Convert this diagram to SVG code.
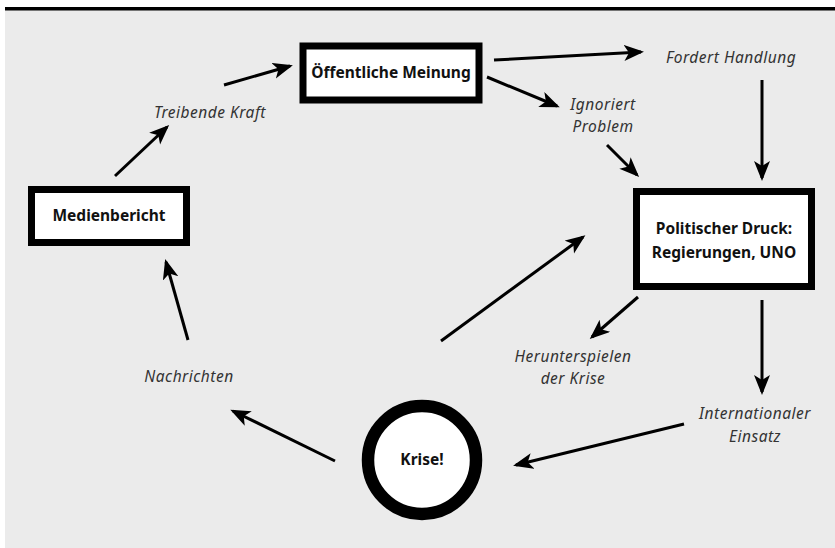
<svg xmlns="http://www.w3.org/2000/svg" width="835" height="548" viewBox="0 0 835 548">
<style>
.box{fill:#fff;stroke:#000;stroke-width:7}
.t{font-family:"Noto Sans","Open Sans","Liberation Sans",sans-serif;font-weight:bold;font-size:15.5px;fill:#111;text-anchor:middle}
.l{font-family:"Noto Sans","Open Sans","Liberation Sans",sans-serif;font-style:italic;font-size:15.5px;letter-spacing:0.5px;fill:#333;text-anchor:middle}
.c{stroke:#000;stroke-width:3;fill:none;marker-end:url(#ah)}
</style>
<defs>
<marker id="ah" markerUnits="userSpaceOnUse" markerWidth="22" markerHeight="18" refX="17" refY="8" orient="auto" viewBox="0 0 22 18">
<path d="M0,0 L20,8 L0,16 L5,8 Z" fill="#000"/>
</marker>
</defs>
<rect x="5" y="7" width="830" height="541" fill="#ebebeb"/>
<rect x="5" y="7" width="830" height="3.5" fill="#000"/>
<g id="connectors">
<line class="c" x1="115" y1="176" x2="167" y2="127"/>
<line class="c" x1="224" y1="85" x2="290" y2="66"/>
<line class="c" x1="494" y1="60" x2="641" y2="52"/>
<line class="c" x1="487" y1="77" x2="557" y2="106"/>
<line class="c" x1="607" y1="145" x2="637" y2="175"/>
<line class="c" x1="762" y1="80" x2="762" y2="178"/>
<line class="c" x1="638" y1="297" x2="592" y2="337"/>
<line class="c" x1="762" y1="300" x2="762" y2="392"/>
<line class="c" x1="684" y1="424" x2="516" y2="465"/>
<line class="c" x1="335" y1="461" x2="233" y2="411"/>
<line class="c" x1="188" y1="340" x2="166" y2="262"/>
<line class="c" x1="441" y1="341" x2="583" y2="237"/>
</g>
<g id="oeffentliche-meinung">
<rect class="box" x="303" y="46" width="176" height="54"/>
<text class="t" x="391" y="78">Öffentliche Meinung</text>
</g>
<g id="medienbericht">
<rect class="box" x="31.5" y="189.5" width="155" height="53"/>
<text class="t" x="109" y="221">Medienbericht</text>
</g>
<g id="politischer-druck">
<rect class="box" x="636.5" y="191.5" width="175" height="95"/>
<text class="t" x="724" y="234">Politischer Druck:</text>
<text class="t" x="724" y="258">Regierungen, UNO</text>
</g>
<g id="krise">
<circle cx="422" cy="460" r="54" fill="#fff" stroke="#000" stroke-width="12.5"/>
<text class="t" x="422" y="465">Krise!</text>
</g>
<g id="labels">
<text class="l" x="210" y="118">Treibende Kraft</text>
<text class="l" x="731" y="63">Fordert Handlung</text>
<text class="l" x="603" y="110">Ignoriert</text>
<text class="l" x="603" y="132">Problem</text>
<text class="l" x="573" y="362">Herunterspielen</text>
<text class="l" x="573" y="384">der Krise</text>
<text class="l" x="755" y="419">Internationaler</text>
<text class="l" x="755" y="442">Einsatz</text>
<text class="l" x="189" y="382">Nachrichten</text>
</g>
</svg>
